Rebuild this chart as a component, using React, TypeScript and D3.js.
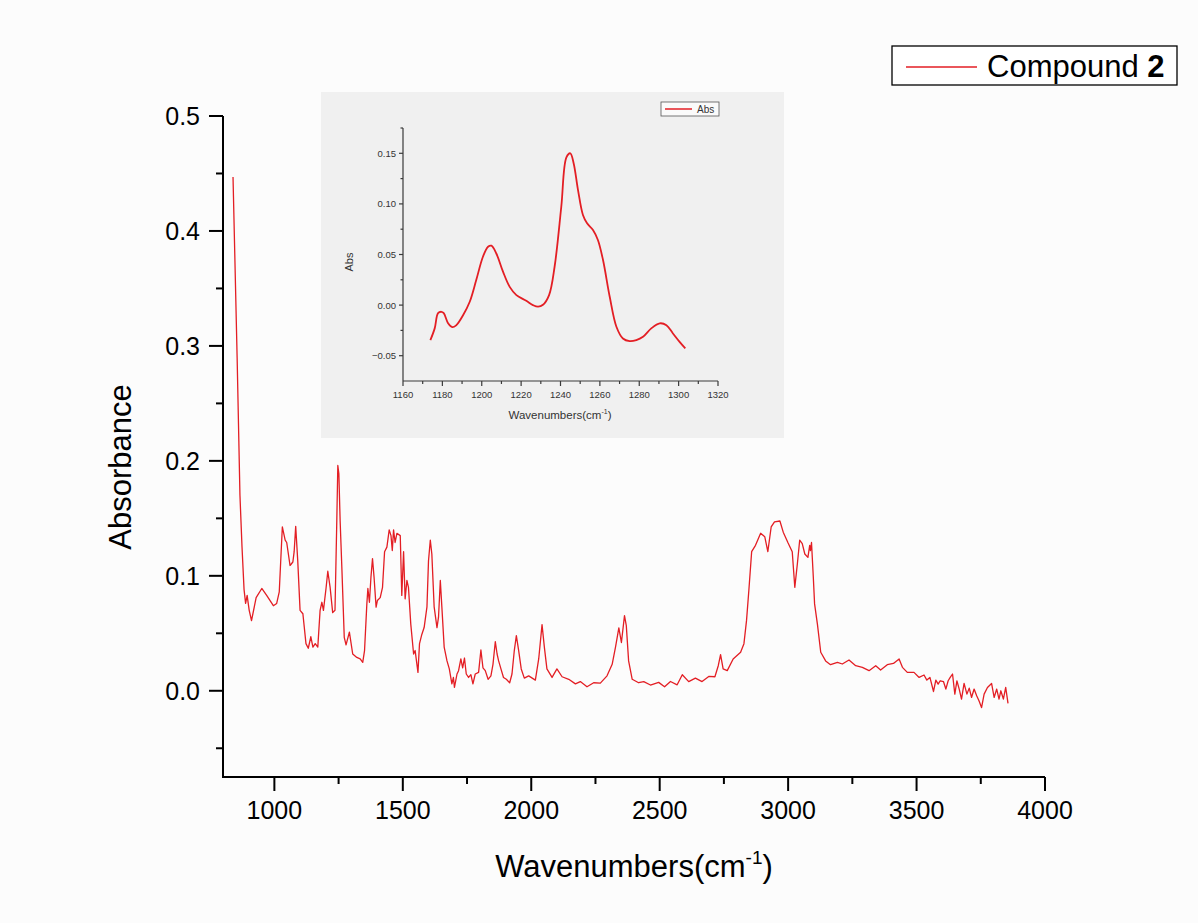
import React from "react";
import * as d3 from "d3";

// ---------- Main spectrum data ----------
const mainWavenumbers: number[] = [
  839, 855, 866, 874, 882, 888, 894, 897, 902, 911, 929, 951, 970, 996, 1009, 1019, 1031, 1042, 1048, 1061,
  1072, 1077, 1083, 1091, 1100, 1111, 1123, 1132, 1142, 1150, 1159, 1169, 1178, 1185, 1191, 1201, 1208, 1217,
  1227, 1236, 1243, 1247, 1251, 1256, 1263, 1272, 1279, 1292, 1305, 1321, 1334, 1344, 1351, 1360, 1364, 1370,
  1376, 1382, 1388, 1396, 1401, 1412, 1421, 1429, 1438, 1447, 1454, 1459, 1464, 1470, 1477, 1490, 1496, 1503,
  1509, 1516, 1522, 1531, 1542, 1548, 1559, 1565, 1574, 1583, 1594, 1600, 1607, 1613, 1622, 1633, 1639, 1646,
  1652, 1661, 1672, 1681, 1691, 1697, 1701, 1711, 1717, 1726, 1733, 1740, 1747, 1756, 1765, 1773, 1782, 1795,
  1804, 1812, 1821, 1832, 1843, 1851, 1860, 1867, 1873, 1882, 1892, 1903, 1916, 1925, 1934, 1942, 1951, 1961,
  1973, 1990, 2016, 2029, 2042, 2051, 2061, 2081, 2100, 2120, 2146, 2172, 2191, 2217, 2243, 2269, 2295, 2315,
  2328, 2341, 2351, 2363, 2370, 2379, 2393, 2418, 2438, 2464, 2496, 2519, 2542, 2568, 2588, 2613, 2639, 2665,
  2691, 2715, 2728, 2737, 2747, 2763, 2786, 2815, 2828, 2838, 2847, 2858, 2873, 2893, 2909, 2921, 2934, 2947,
  2968, 2981, 2999, 3016, 3026, 3036, 3045, 3055, 3065, 3077, 3084, 3087, 3091, 3098, 3103, 3114, 3127, 3146,
  3165, 3192, 3211, 3237, 3263, 3289, 3315, 3341, 3360, 3386, 3410, 3432, 3445, 3464, 3490, 3510, 3529, 3540,
  3552, 3566, 3575, 3584, 3592, 3605, 3614, 3623, 3631, 3640, 3649, 3657, 3666, 3675, 3685, 3696, 3705, 3714,
  3724, 3734, 3743, 3753, 3763, 3776, 3792, 3802, 3812, 3821, 3828, 3838, 3847, 3856,
];
const mainAbsorbance: number[] = [
  0.447, 0.29, 0.17, 0.125, 0.088, 0.076, 0.083, 0.078, 0.07, 0.061, 0.081, 0.089, 0.083, 0.074, 0.076, 0.086, 0.1425, 0.131, 0.129, 0.109,
  0.112, 0.121, 0.143, 0.113, 0.07, 0.067, 0.041, 0.037, 0.047, 0.038, 0.041, 0.038, 0.07, 0.077, 0.07, 0.089, 0.104, 0.09,
  0.068, 0.07, 0.148, 0.196, 0.189, 0.148, 0.105, 0.0465, 0.04, 0.051, 0.032, 0.029, 0.0277, 0.0247, 0.035, 0.0756, 0.089, 0.077,
  0.099, 0.115, 0.099, 0.0727, 0.0785, 0.081, 0.09, 0.121, 0.125, 0.14, 0.135, 0.122, 0.14, 0.129, 0.137, 0.135, 0.083, 0.121,
  0.08, 0.096, 0.09, 0.058, 0.032, 0.035, 0.016, 0.041, 0.049, 0.055, 0.073, 0.113, 0.131, 0.119, 0.073, 0.055, 0.064, 0.096,
  0.073, 0.038, 0.026, 0.019, 0.006, 0.0116, 0.003, 0.0146, 0.0175, 0.0277, 0.02, 0.0285, 0.0146, 0.0116, 0.014, 0.006, 0.0146, 0.016,
  0.0355, 0.02, 0.0175, 0.01, 0.013, 0.023, 0.0427, 0.032, 0.026, 0.019, 0.0116, 0.01, 0.007, 0.0146, 0.035, 0.048, 0.035, 0.019,
  0.011, 0.013, 0.0093, 0.0277, 0.0576, 0.038, 0.019, 0.0116, 0.019, 0.0122, 0.01, 0.006, 0.008, 0.0035, 0.007, 0.0067, 0.013, 0.023,
  0.038, 0.0547, 0.042, 0.0654, 0.0567, 0.026, 0.01, 0.007, 0.0079, 0.005, 0.0073, 0.0035, 0.0081, 0.0052, 0.014, 0.008, 0.011, 0.008,
  0.0125, 0.0122, 0.0218, 0.0314, 0.019, 0.0175, 0.0277, 0.0335, 0.041, 0.061, 0.087, 0.121, 0.1265, 0.137, 0.134, 0.121, 0.1425, 0.147,
  0.1477, 0.138, 0.129, 0.121, 0.09, 0.1105, 0.131, 0.128, 0.119, 0.116, 0.1265, 0.122, 0.129, 0.099, 0.0756, 0.058, 0.0335, 0.026,
  0.0227, 0.0247, 0.0233, 0.0268, 0.0218, 0.0204, 0.0175, 0.0218, 0.018, 0.0227, 0.0238, 0.0277, 0.0204, 0.016, 0.016, 0.0116, 0.0137, 0.0093,
  0.0116, -0.0006, 0.0093, 0.0058, 0.0087, 0.0079, 0.0015, 0.0087, 0.0116, 0.0146, -0.0029, 0.0087, 0.0015, -0.0072, 0.0064, -0.0029, 0.0023, -0.0058,
  0.0015, -0.0044, -0.0087, -0.0146, -0.0029, 0.0029, 0.0064, -0.0058, 0.0015, -0.0072, 0, -0.0072, 0.0029, -0.011,
];

// ---------- Inset data ----------
const insetWavenumbers: number[] = [
  1173.9, 1176.1, 1177.8, 1179.5, 1180.7, 1182.9, 1185, 1187, 1190.5, 1193.9, 1197.2, 1200.6, 1203.2, 1204.9,
  1207.4, 1210.8, 1214.2, 1217.6, 1222.6, 1226, 1228.6, 1231.1, 1234.2, 1237, 1240.4, 1243, 1245, 1246.7, 1248.9,
  1251.4, 1253.5, 1256.5, 1259, 1261.6, 1265, 1268.4, 1271.7, 1275.1, 1278.5, 1281.9, 1286.1, 1290.4, 1293.8,
  1297.1, 1300.5, 1303.4,
];
const insetAbs: number[] = [
  -0.0346, -0.023, -0.008, -0.0066, -0.008, -0.018, -0.0218, -0.02, -0.01, 0.0033, 0.0247, 0.0478, 0.0577, 0.0587,
  0.051, 0.033, 0.018, 0.0099, 0.0043, 0, -0.0016, 0.0003, 0.0099, 0.0379, 0.0972, 0.146, 0.15, 0.14, 0.1137,
  0.089, 0.0808, 0.0742, 0.0643, 0.0445, 0.0082, -0.0214, -0.033, -0.0356, -0.0346, -0.0313, -0.023, -0.018, -0.0198,
  -0.028, -0.0363, -0.0428,
];

// ---------- Ticks ----------
const xMajorTicks = [1000, 1500, 2000, 2500, 3000, 3500, 4000];
const xMinorTicks = [1250, 1750, 2250, 2750, 3250, 3750];
const yMajorTicks = [0, 0.1, 0.2, 0.3, 0.4, 0.5];
const yMinorTicks = [-0.05, 0.05, 0.15, 0.25, 0.35, 0.45];
const ixMajorTicks = [1160, 1180, 1200, 1220, 1240, 1260, 1280, 1300, 1320];
const ixMinorTicks = [1170, 1190, 1210, 1230, 1250, 1270, 1290, 1310];
const iyMajorTicks = [-0.05, 0, 0.05, 0.1, 0.15];
const iyMinorTicks = [-0.025, 0.025, 0.075, 0.125, 0.175];

const FONT = "'Liberation Sans', Arial, Helvetica, sans-serif";
const RED = "#e31e24";

export default function App() {
  const W = 1198;
  const H = 923;

  const x = d3.scaleLinear().domain([800, 4000]).range([223, 1045]);
  const y = d3.scaleLinear().domain([-0.075, 0.5]).range([777, 116]);
  const ix = d3.scaleLinear().domain([1160, 1320]).range([403, 718]);
  const iy = d3.scaleLinear().domain([-0.075, 0.175]).range([381, 128]);

  const mainPts = mainWavenumbers.map((w, i) => [w, mainAbsorbance[i]] as [number, number]);
  const insetPts = insetWavenumbers.map((w, i) => [w, insetAbs[i]] as [number, number]);

  const mainLine = d3
    .line<[number, number]>()
    .x((d) => x(d[0]))
    .y((d) => y(d[1]))
    .curve(d3.curveLinear);
  const insetLine = d3
    .line<[number, number]>()
    .x((d) => ix(d[0]))
    .y((d) => iy(d[1]))
    .curve(d3.curveCatmullRom.alpha(0.5));

  const f1 = d3.format(".1f");
  const f2 = d3.format(".2f");

  const x0 = x.range()[0];
  const yBottom = y.range()[0];
  const ix0 = ix.range()[0];
  const iyBottom = iy.range()[0];

  return (
    <div style={{ position: "absolute", left: 0, top: 0, width: W, height: H }}>
      <svg width={W} height={H} style={{ display: "block" }} fontFamily={FONT}>
        <rect x={0} y={0} width={W} height={H} fill="#fcfcfc" />

        {/* Inset background */}
        <rect x={321} y={92} width={463} height={346} fill="#f0f0f0" />

        {/* Inset axes */}
        <g stroke="#3a3a3a" strokeWidth={1.2} fill="none">
          <line x1={ix0} y1={iy.range()[1]} x2={ix0} y2={iyBottom} />
          <line x1={ix0} y1={iyBottom} x2={ix.range()[1]} y2={iyBottom} />
          {ixMajorTicks.map((t) => (
            <line key={"ixM" + t} x1={ix(t)} x2={ix(t)} y1={iyBottom} y2={iyBottom + 5} />
          ))}
          {ixMinorTicks.map((t) => (
            <line key={"ixm" + t} x1={ix(t)} x2={ix(t)} y1={iyBottom} y2={iyBottom + 3} />
          ))}
          {iyMajorTicks.map((t) => (
            <line key={"iyM" + t} x1={ix0 - 4} x2={ix0} y1={iy(t)} y2={iy(t)} />
          ))}
          {iyMinorTicks.map((t) => (
            <line key={"iym" + t} x1={ix0 - 2.5} x2={ix0} y1={iy(t)} y2={iy(t)} />
          ))}
        </g>
        <g fill="#333" fontSize={9.5}>
          {ixMajorTicks.map((t) => (
            <text key={"ixl" + t} x={ix(t)} y={iyBottom + 16.5} textAnchor="middle">
              {t}
            </text>
          ))}
          {iyMajorTicks.map((t) => (
            <text key={"iyl" + t} x={ix0 - 7} y={iy(t) + 3.5} textAnchor="end">
              {f2(t)}
            </text>
          ))}
          <text x={560} y={419} textAnchor="middle" fontSize={11.5}>
            Wavenumbers(cm
            <tspan fontSize={7} dy={-5}>-1</tspan>
            <tspan dy={5}>)</tspan>
          </text>
          <text transform="translate(353,262) rotate(-90)" textAnchor="middle" fontSize={11}>
            Abs
          </text>
        </g>
        <path d={insetLine(insetPts) || ""} fill="none" stroke={RED} strokeWidth={1.8} />
        {/* Inset legend */}
        <rect x={661} y={102} width={58} height={14} fill="#fafafa" stroke="#555" strokeWidth={0.8} />
        <line x1={665} x2={692} y1={109} y2={109} stroke={RED} strokeWidth={1.5} />
        <text x={697} y={113} fontSize={10} fill="#333">
          Abs
        </text>

        {/* Main axes */}
        <g stroke="#000" strokeWidth={2} fill="none">
          <line x1={x0} y1={y.range()[1]} x2={x0} y2={yBottom + 1} />
          <line x1={x0 - 1} y1={yBottom} x2={x.range()[1]} y2={yBottom} />
          {xMajorTicks.map((t) => (
            <line key={"xM" + t} x1={x(t)} x2={x(t)} y1={yBottom} y2={yBottom + 14} />
          ))}
          {xMinorTicks.map((t) => (
            <line key={"xm" + t} x1={x(t)} x2={x(t)} y1={yBottom} y2={yBottom + 7} />
          ))}
          {yMajorTicks.map((t) => (
            <line key={"yM" + t} x1={x0 - 14} x2={x0} y1={y(t)} y2={y(t)} />
          ))}
          {yMinorTicks.map((t) => (
            <line key={"ym" + t} x1={x0 - 7} x2={x0} y1={y(t)} y2={y(t)} />
          ))}
        </g>
        <g fill="#000" fontSize={25}>
          {xMajorTicks.map((t) => (
            <text key={"xl" + t} x={x(t)} y={819} textAnchor="middle">
              {t}
            </text>
          ))}
          {yMajorTicks.map((t) => (
            <text key={"yl" + t} x={x0 - 23} y={y(t) + 9} textAnchor="end">
              {f1(t)}
            </text>
          ))}
        </g>
        <text x={634} y={877} textAnchor="middle" fontSize={31} fill="#000">
          Wavenumbers(cm
          <tspan fontSize={19} dy={-13}>-1</tspan>
          <tspan dy={13}>)</tspan>
        </text>
        <text transform="translate(131,467) rotate(-90)" textAnchor="middle" fontSize={31} fill="#000">
          Absorbance
        </text>

        {/* Main spectrum */}
        <path d={mainLine(mainPts) || ""} fill="none" stroke={RED} strokeWidth={1.3} strokeLinejoin="round" />

        {/* Main legend */}
        <rect x={892} y={46} width={285} height={39} fill="#fff" stroke="#000" strokeWidth={1.3} />
        <line x1={906} x2={977} y1={67} y2={67} stroke={RED} strokeWidth={1.5} />
        <text x={987} y={77} fontSize={31} fill="#000">
          Compound <tspan fontWeight="bold">2</tspan>
        </text>
      </svg>
    </div>
  );
}
